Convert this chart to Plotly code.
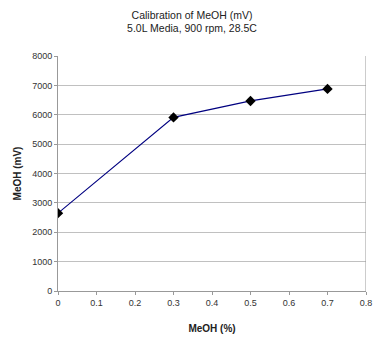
import plotly.graph_objects as go

x_vals = [0, 0.3, 0.5, 0.7]
y_vals = [2650, 5910, 6470, 6880]
x_ticks = [0, 0.1, 0.2, 0.3, 0.4, 0.5, 0.6, 0.7, 0.8]
y_ticks = [0, 1000, 2000, 3000, 4000, 5000, 6000, 7000, 8000]

fig = go.Figure()
fig.add_trace(go.Scatter(
    x=x_vals, y=y_vals, mode="lines+markers",
    line=dict(color="#000080", width=1.2),
    marker=dict(symbol="diamond", size=8, color="black"),
    showlegend=False,
))

font = "Liberation Sans, Arial, sans-serif"
fig.update_layout(
    width=384, height=338,
    margin=dict(l=58, r=18, t=56, b=47, autoexpand=False),
    paper_bgcolor="white", plot_bgcolor="white",
    font=dict(family=font, size=9, color="#333"),
    title=dict(text="Calibration of MeOH (mV)<br>5.0L Media, 900 rpm, 28.5C",
               x=0.5, xanchor="center", y=0.945, yanchor="middle",
               font=dict(family=font, size=10.5, color="#222")),
)
fig.update_xaxes(
    range=[0, 0.8], tickvals=x_ticks, ticktext=[str(t) for t in x_ticks],
    showgrid=False, showline=True, linecolor="#999", linewidth=1,
    ticks="outside", ticklen=3, tickcolor="#999",
    mirror=False, zeroline=False, automargin=False,
    title=dict(text="<b>MeOH (%)</b>", font=dict(family=font, size=10, color="#222"), standoff=18),
)
fig.update_yaxes(
    range=[0, 8000], tickvals=y_ticks, ticktext=[str(t) for t in y_ticks],
    showgrid=True, gridcolor="#c0c0c0", gridwidth=1,
    showline=True, linecolor="#999", linewidth=1,
    ticks="outside", ticklen=3, tickcolor="#999", zeroline=False, automargin=False,
    title=dict(text="<b>MeOH (mV)</b>", font=dict(family=font, size=10, color="#222"), standoff=8),
)
fig.add_shape(type="line", xref="x", yref="paper", x0=0.8, x1=0.8, y0=0, y1=1,
              line=dict(color="#999", width=1))

fig.write_html("out.html")
